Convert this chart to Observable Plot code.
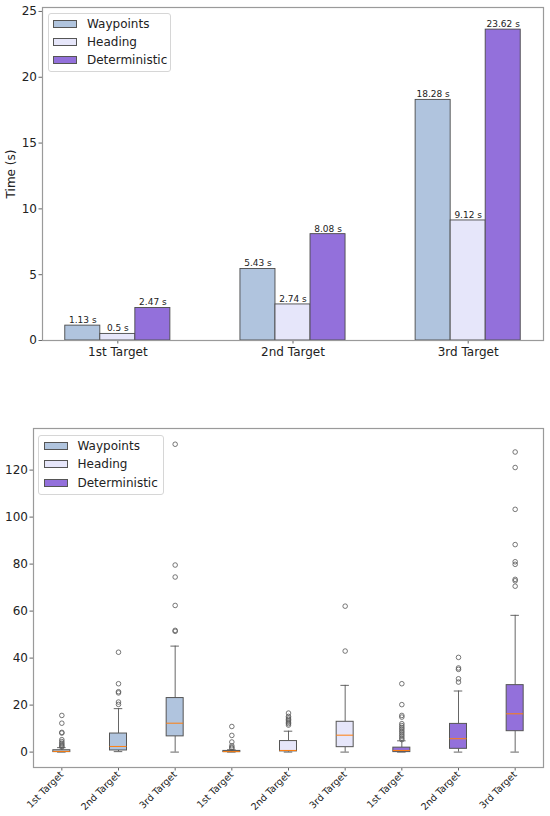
<!DOCTYPE html>
<html>
<head>
<meta charset="utf-8">
<script src="https://cdn.jsdelivr.net/npm/d3@7"></script>
<script src="https://cdn.jsdelivr.net/npm/@observablehq/plot@0.6"></script>
<style>
  body { margin: 0; background: #fff; font-family: "DejaVu Sans", sans-serif; }
  #wrap { position: relative; width: 550px; height: 816px; }
  #wrap svg { display: block; }
  .legend { position: absolute; border: 1px solid #d6d6d6; border-radius: 3px; background: rgba(255,255,255,0.85);
            font-size: 12px; color: #222; box-sizing: border-box; }
  .legend .row { display: flex; align-items: center; }
  .legend .sw { width: 24px; height: 8px; border: 1px solid #555; box-sizing: border-box; }
  .legend .lab { margin-left: 10px; white-space: nowrap; }
</style>
</head>
<body>
<div id="wrap"></div>
<script>
// ---------- data ----------
const targets = ["1st Target", "2nd Target", "3rd Target"];
const series = ["Waypoints", "Heading", "Deterministic"];
const colors = ["#b0c4de", "#e6e6fa", "#9370db"];

const waypoints = [1.13, 5.43, 18.28];
const heading = [0.5, 2.74, 9.12];
const deterministic = [2.47, 8.08, 23.62];
const barTicks = [0, 5, 10, 15, 20, 25];

const boxLabels = ["1st Target", "2nd Target", "3rd Target", "1st Target", "2nd Target", "3rd Target", "1st Target", "2nd Target", "3rd Target"];
const boxSeries = ["Waypoints", "Waypoints", "Waypoints", "Heading", "Heading", "Heading", "Deterministic", "Deterministic", "Deterministic"];
const q1 = [0.0, 0.7, 6.7, 0.0, 0.3, 2.1, 0.0, 1.4, 8.9];
const median = [0.3, 2.4, 12.3, 0.2, 0.7, 7.2, 0.7, 5.7, 16.3];
const q3 = [0.8, 7.9, 23.0, 0.5, 4.7, 12.9, 1.9, 12.0, 28.5];
const whiskerLow = [0, 0.2, 0, 0, 0, 0, 0, 0, 0];
const whiskerHigh = [1.9, 18.5, 45.1, 1.0, 8.9, 28.4, 4.8, 26.0, 58.2];
const outliers = [
  [15.6, 12.3, 8.4, 8.1, 5.3, 4.5, 3.8, 3.2, 2.6, 2.2],
  [42.5, 29.1, 25.7, 25.2, 21.3, 20.3],
  [131, 79.6, 74.5, 62.4, 51.8, 51.4],
  [10.9, 7.1, 4.3, 2.7, 2.0, 1.6],
  [16.6, 15.2, 14.5, 13.9, 13.3, 12.7, 12.1, 11.5],
  [62.1, 43.0],
  [29.1, 20.2, 15.6, 14.9, 12.1, 11.3, 10.5, 9.8, 9.0, 8.3, 7.5, 6.8, 6.0, 5.3],
  [40.3, 35.8, 35.2, 31.2, 29.8],
  [127.7, 121.1, 103.3, 88.3, 81.0, 79.9, 73.5, 72.9, 70.6]
];
const boxTicks = [0, 20, 40, 60, 80, 100, 120];

// ---------- derived tables ----------
const barValues = [waypoints, heading, deterministic];
const bars = series.flatMap((s, si) => targets.map((t, ti) => ({ series: s, si, ti, value: barValues[si][ti] })));
const BW = 0.2;
const barCenter = d => d.ti + (d.si - 1) * BW;

const boxes = boxLabels.map((label, i) => ({
  pos: i + 1, label, series: boxSeries[i],
  q1: q1[i], median: median[i], q3: q3[i], lo: whiskerLow[i], hi: whiskerHigh[i]
}));
const outPts = outliers.flatMap((arr, i) => arr.map(v => ({ pos: i + 1, v })));
const HB = 0.15, CAP = 0.075;

const font = "DejaVu Sans, sans-serif";
const wrap = document.getElementById("wrap");

// ---------- top bar chart ----------
const topChart = Plot.plot({
  width: 550, height: 400,
  marginLeft: 42, marginRight: 7, marginTop: 7, marginBottom: 60,
  style: { fontFamily: font, fontSize: "12px", color: "#222", background: "#fff" },
  x: { domain: [-0.43, 2.43] },
  y: { domain: [0, 25.3] },
  color: { domain: series, range: colors },
  marks: [
    Plot.rectY(bars, { x1: d => barCenter(d) - BW / 2, x2: d => barCenter(d) + BW / 2, y1: 0, y2: "value", fill: "series", stroke: "#4a4a4a", strokeWidth: 0.9 }),
    Plot.text(bars, { x: barCenter, y: "value", text: d => `${d.value} s`, dy: -5.5, fontSize: 9, fill: "#222" }),
    Plot.axisY({ ticks: barTicks, tickSize: 3.5, tickPadding: 2, stroke: "#666", label: "Time (s)", labelAnchor: "center", labelArrow: "none", labelOffset: 36 }),
    Plot.axisX({ ticks: [0, 1, 2], tickFormat: i => targets[i], tickSize: 3.5, tickPadding: 3, stroke: "#666", label: null }),
    Plot.frame({ stroke: "#9a9a9a", strokeWidth: 1.2 })
  ]
});
wrap.appendChild(topChart);

// ---------- bottom box chart ----------
const bottomChart = Plot.plot({
  width: 550, height: 416,
  marginLeft: 33, marginRight: 7, marginTop: 28, marginBottom: 49,
  style: { fontFamily: font, fontSize: "12px", color: "#222", background: "#fff" },
  x: { domain: [0.5, 9.5] },
  y: { domain: [-6.55, 137.7] },
  color: { domain: series, range: colors },
  marks: [
    Plot.ruleX(boxes, { x: "pos", y1: "lo", y2: "q1", stroke: "#555", strokeWidth: 0.9 }),
    Plot.ruleX(boxes, { x: "pos", y1: "q3", y2: "hi", stroke: "#555", strokeWidth: 0.9 }),
    Plot.ruleY(boxes, { y: "lo", x1: d => d.pos - CAP, x2: d => d.pos + CAP, stroke: "#555", strokeWidth: 0.9 }),
    Plot.ruleY(boxes, { y: "hi", x1: d => d.pos - CAP, x2: d => d.pos + CAP, stroke: "#555", strokeWidth: 0.9 }),
    Plot.rect(boxes, { x1: d => d.pos - HB, x2: d => d.pos + HB, y1: "q1", y2: "q3", fill: "series", stroke: "#555", strokeWidth: 1 }),
    Plot.ruleY(boxes, { y: "median", x1: d => d.pos - HB, x2: d => d.pos + HB, stroke: "#ff7f0e", strokeWidth: 1 }),
    Plot.dot(outPts, { x: "pos", y: "v", r: 2.3, stroke: "#555", strokeWidth: 0.8, fill: "none" }),
    Plot.axisY({ ticks: boxTicks, tickSize: 3.5, tickPadding: 2, stroke: "#666", label: null }),
    Plot.axisX({ ticks: d3.range(1, 10), tickFormat: i => boxLabels[i - 1], tickSize: 3.5, tickPadding: 2, tickRotate: -45, fontSize: 9.5, stroke: "#666", label: null }),
    Plot.frame({ stroke: "#9a9a9a", strokeWidth: 1.2 })
  ]
});
wrap.appendChild(bottomChart);

// ---------- legends (HTML overlays) ----------
function legend(left, topPx, w, rowH, padTop) {
  const div = document.createElement("div");
  div.className = "legend";
  div.style.left = left + "px";
  div.style.top = topPx + "px";
  div.style.width = w + "px";
  div.style.padding = padTop + "px 0 2px 4.5px";
  series.forEach((s, i) => {
    const row = document.createElement("div");
    row.className = "row";
    row.style.height = rowH + "px";
    const sw = document.createElement("div");
    sw.className = "sw";
    sw.style.background = colors[i];
    const lab = document.createElement("span");
    lab.className = "lab";
    lab.textContent = s;
    row.appendChild(sw); row.appendChild(lab);
    div.appendChild(row);
  });
  wrap.appendChild(div);
}
legend(47.5, 13, 123, 18, 1);
legend(38, 435, 126, 18.5, 0.5);
</script>
</body>
</html>
